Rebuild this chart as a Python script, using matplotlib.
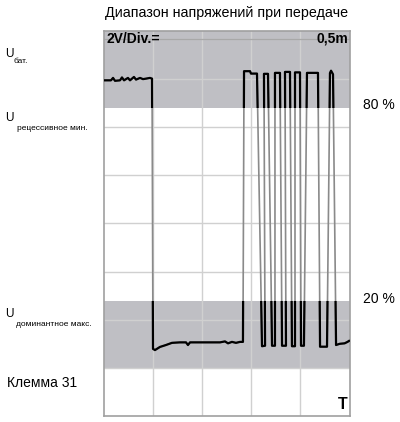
import matplotlib
matplotlib.use("Agg")
import matplotlib.pyplot as plt
import matplotlib.patches as mpatches

plt.rcParams['font.family'] = ['Liberation Sans', 'DejaVu Sans']

# oscillogram, time in ms (0.5 ms/div), voltage in V (2 V/div)
t_ms = [0.010, 0.071, 0.092, 0.112, 0.163, 0.183, 0.204, 0.244, 0.265, 0.305,
        0.326, 0.367, 0.397, 0.428, 0.468, 0.489,
        0.499, 0.519, 0.570, 0.631, 0.692, 0.774, 0.835, 0.855, 0.876, 0.978,
        1.181, 1.232, 1.263, 1.303, 1.344, 1.385, 1.415,
        1.426, 1.487, 1.497, 1.558,
        1.609, 1.640, 1.629, 1.670, 1.711, 1.741, 1.741, 1.792, 1.813, 1.853,
        1.843, 1.894, 1.914, 1.945, 1.945, 1.996, 2.006, 2.036, 2.067, 2.179,
        2.200, 2.271, 2.301, 2.312, 2.332, 2.363, 2.400, 2.450, 2.480, 2.495]
u_v = [13.95, 13.95, 14.05, 13.93, 13.95, 14.07, 13.95, 14.05, 13.95, 14.09,
       13.98, 14.05, 14.00, 14.02, 14.05, 14.02,
       2.79, 2.74, 2.87, 2.95, 3.04, 3.06, 3.06, 2.95, 3.06, 3.06,
       3.06, 3.10, 3.02, 3.08, 3.04, 3.08, 3.08,
       14.33, 14.33, 14.23, 14.23,
       2.90, 2.92, 14.22, 14.22, 2.92, 2.92, 14.26, 14.26, 2.92, 2.92,
       14.30, 14.30, 2.90, 2.90, 14.28, 14.28, 2.92, 2.92, 14.26, 14.26,
       2.88, 2.88, 14.25, 14.35, 14.20, 2.95, 3.00, 3.02, 3.08, 3.12]

band_high = (12.8, 16.0)
band_low = (2.0, 4.8)
status_line = 15.68

fig = plt.figure(figsize=(4.0, 4.22), dpi=100)
ax = fig.add_axes([104 / 400, 1 - 416 / 422, 245.5 / 400, 385 / 422])
ax.set_xlim(0, 2.5)
ax.set_ylim(0, 16)

band_col = '#bfbfc4'
for lo, hi in (band_high, band_low):
    ax.axhspan(lo, hi, color=band_col, lw=0, zorder=0)

for x in [0.5, 1.0, 1.5, 2.0]:
    ax.axvline(x, color='#d0d0d0', lw=1.0, zorder=1)
for y in range(2, 16, 2):
    ax.axhline(y, color='#d0d0d0', lw=1.0, zorder=1)
ax.axhline(status_line, color='#a8a8a8', lw=0.9, zorder=1)

# fast edges look grey outside the bands, black inside
ax.plot(t_ms, u_v, color='#8a8a8a', lw=1.2, zorder=2)
for lo, hi in (band_high, band_low):
    ln, = ax.plot(t_ms, u_v, color='black', lw=1.6, zorder=3)
    clip = mpatches.Rectangle((0, lo), 2.5, hi - lo, transform=ax.transData)
    ln.set_clip_path(clip)

ax.set_xticks([])
ax.set_yticks([])
for s in ax.spines.values():
    s.set_color('#a0a0a0')
    s.set_linewidth(1.2)

ax.text(0.01, 0.998, "2V/Div.=", transform=ax.transAxes, fontsize=10,
        fontweight='bold', ha='left', va='top', zorder=5)
ax.text(0.995, 0.998, "0,5m", transform=ax.transAxes, fontsize=10,
        fontweight='bold', ha='right', va='top', zorder=5)
ax.text(0.992, 0.01, "T", transform=ax.transAxes, fontsize=11.5,
        fontweight='bold', ha='right', va='bottom', zorder=5)


def ftxt(x, y, s, size, **kw):
    fig.text(x / 400, 1 - y / 422, s, fontsize=size, va='baseline', **kw)


ftxt(227, 17, "Диапазон напряжений при передаче", 10.3, ha='center')

ftxt(5, 57, "U", 8.5)
ftxt(13, 63, "бат.", 6)
ftxt(5, 121, "U", 8.5)
ftxt(17, 130, "рецессивное мин.", 6)
ftxt(5, 317, "U", 8.5)
ftxt(16, 326, "доминантное макс.", 6)
ftxt(7, 387, "Клемма 31", 10)

ftxt(363, 109, "80 %", 10)
ftxt(363, 303, "20 %", 10)

fig.savefig("out.png", dpi=100)
